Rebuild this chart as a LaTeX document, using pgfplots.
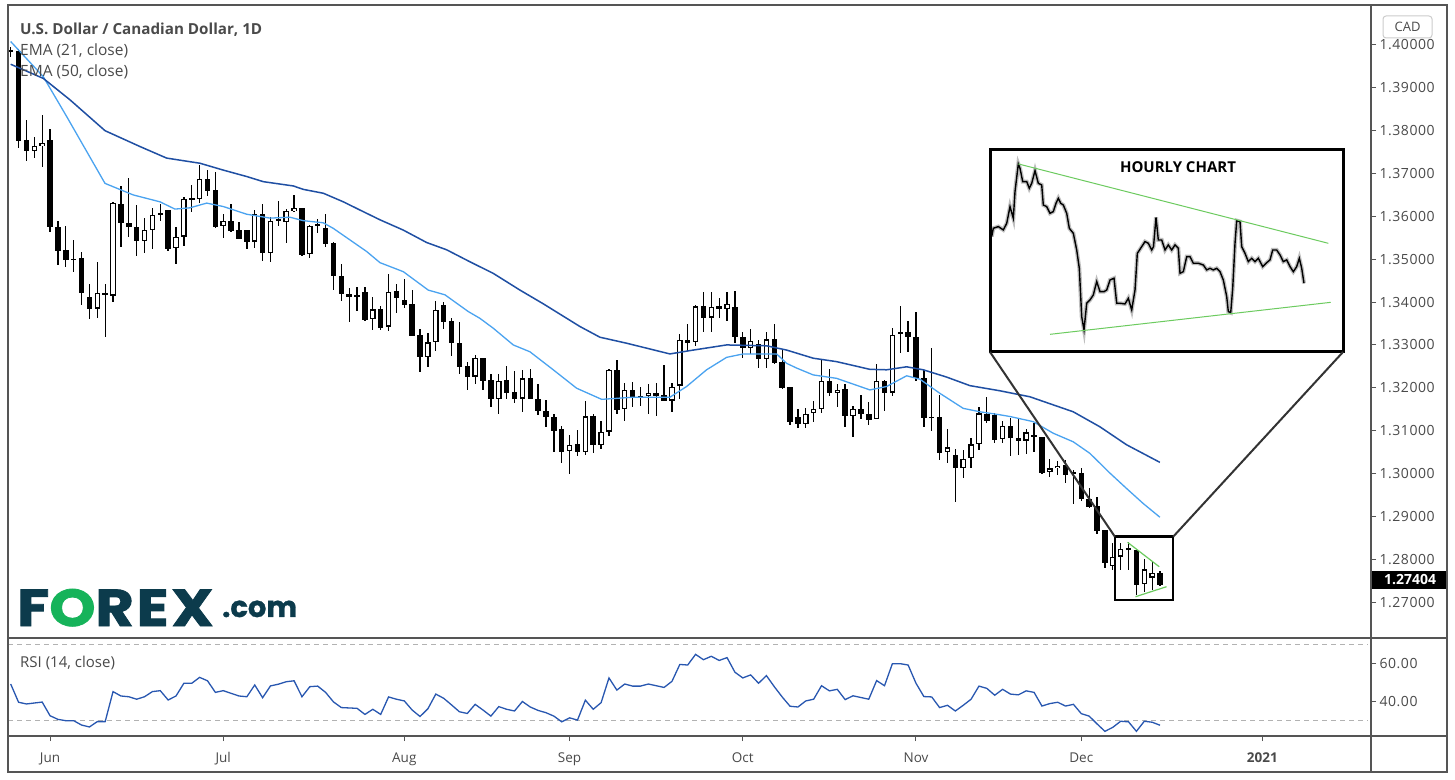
\documentclass[border=0pt]{standalone}
\usepackage{pgfplots}
\pgfplotsset{compat=1.18}
\usepackage{pgfplotstable}
\usepackage{graphicx}
\usepackage{fontspec}
\setmainfont{Open Sans}
\newfontfamily\logofont{Poppins}
\definecolor{framec}{HTML}{555555}
\definecolor{txt}{HTML}{4A4A4A}
\definecolor{emafast}{HTML}{4AA3F0}
\definecolor{emaslow}{HTML}{1F4FA3}
\definecolor{rsic}{HTML}{2857B0}
\definecolor{trend}{HTML}{6CCB5F}
\definecolor{logonavy}{HTML}{0C3B4C}
\definecolor{logogreen}{HTML}{16B35A}

% daily USD/CAD candles, i = trading day (1 = 25 May 2020)
\pgfplotstableread{
i o h l c
1 1.3986 1.3996 1.3973 1.3986
2 1.3987 1.3990 1.3759 1.3777
3 1.3778 1.3825 1.3730 1.3753
4 1.3752 1.3785 1.3737 1.3764
5 1.3764 1.3837 1.3716 1.3771
6 1.3778 1.3804 1.3563 1.3575
7 1.3575 1.3589 1.3487 1.3520
8 1.3521 1.3578 1.3482 1.3498
9 1.3500 1.3545 1.3471 1.3500
10 1.3502 1.3518 1.3393 1.3422
11 1.3413 1.3442 1.3361 1.3385
12 1.3385 1.3494 1.3364 1.3421
13 1.3421 1.3442 1.3319 1.3417
14 1.3415 1.3634 1.3401 1.3632
15 1.3630 1.3672 1.3529 1.3584
16 1.3584 1.3690 1.3552 1.3575
17 1.3575 1.3627 1.3508 1.3543
18 1.3543 1.3597 1.3515 1.3568
19 1.3568 1.3619 1.3524 1.3603
20 1.3603 1.3630 1.3590 1.3608
21 1.3614 1.3614 1.3519 1.3524
22 1.3526 1.3576 1.3489 1.3553
23 1.3553 1.3646 1.3532 1.3640
24 1.3640 1.3673 1.3611 1.3640
25 1.3640 1.3721 1.3631 1.3687
26 1.3687 1.3708 1.3647 1.3660
27 1.3662 1.3703 1.3574 1.3576
28 1.3577 1.3606 1.3549 1.3589
29 1.3589 1.3629 1.3564 1.3566
30 1.3568 1.3587 1.3547 1.3548
31 1.3568 1.3568 1.3523 1.3541
32 1.3541 1.3614 1.3527 1.3605
33 1.3605 1.3629 1.3497 1.3514
34 1.3514 1.3598 1.3494 1.3589
35 1.3589 1.3636 1.3578 1.3593
36 1.3586 1.3617 1.3539 1.3612
37 1.3612 1.3650 1.3611 1.3619
38 1.3619 1.3620 1.3507 1.3510
39 1.3512 1.3580 1.3504 1.3577
40 1.3577 1.3594 1.3561 1.3582
41 1.3572 1.3606 1.3529 1.3535
42 1.3537 1.3540 1.3428 1.3462
43 1.3462 1.3489 1.3403 1.3420
44 1.3420 1.3432 1.3354 1.3413
45 1.3417 1.3436 1.3380 1.3413
46 1.3424 1.3436 1.3356 1.3358
47 1.3360 1.3413 1.3335 1.3383
48 1.3383 1.3390 1.3335 1.3340
49 1.3343 1.3466 1.3333 1.3424
50 1.3426 1.3442 1.3375 1.3410
51 1.3405 1.3455 1.3386 1.3393
52 1.3396 1.3428 1.3322 1.3322
53 1.3323 1.3337 1.3238 1.3271
54 1.3271 1.3327 1.3248 1.3306
55 1.3306 1.3403 1.3287 1.3381
56 1.3393 1.3400 1.3337 1.3354
57 1.3356 1.3362 1.3275 1.3304
58 1.3304 1.3354 1.3232 1.3249
59 1.3251 1.3261 1.3196 1.3226
60 1.3226 1.3277 1.3209 1.3269
61 1.3269 1.3270 1.3196 1.3217
62 1.3218 1.3232 1.3156 1.3173
63 1.3173 1.3232 1.3138 1.3217
64 1.3218 1.3251 1.3173 1.3189
65 1.3190 1.3239 1.3164 1.3175
66 1.3175 1.3242 1.3144 1.3222
67 1.3222 1.3245 1.3174 1.3175
68 1.3175 1.3210 1.3136 1.3147
69 1.3147 1.3172 1.3108 1.3131
70 1.3131 1.3139 1.3051 1.3100
71 1.3103 1.3111 1.3025 1.3051
72 1.3052 1.3091 1.2999 1.3067
73 1.3068 1.3101 1.3041 1.3049
74 1.3049 1.3169 1.3042 1.3133
75 1.3133 1.3138 1.3049 1.3067
76 1.3067 1.3122 1.3056 1.3098
77 1.3098 1.3244 1.3088 1.3242
78 1.3242 1.3265 1.3140 1.3148
79 1.3150 1.3212 1.3123 1.3195
80 1.3195 1.3214 1.3156 1.3178
81 1.3181 1.3201 1.3158 1.3177
82 1.3180 1.3209 1.3140 1.3189
83 1.3189 1.3212 1.3133 1.3181
84 1.3183 1.3253 1.3170 1.3170
85 1.3170 1.3212 1.3143 1.3203
86 1.3205 1.3326 1.3175 1.3311
87 1.3311 1.3350 1.3287 1.3305
88 1.3306 1.3393 1.3298 1.3390
89 1.3391 1.3423 1.3330 1.3364
90 1.3364 1.3423 1.3331 1.3388
91 1.3390 1.3409 1.3364 1.3383
92 1.3383 1.3423 1.3357 1.3396
93 1.3388 1.3426 1.3305 1.3319
94 1.3319 1.3330 1.3270 1.3292
95 1.3292 1.3337 1.3279 1.3310
96 1.3302 1.3312 1.3246 1.3267
97 1.3267 1.3331 1.3247 1.3313
98 1.3313 1.3348 1.3255 1.3259
99 1.3261 1.3289 1.3198 1.3200
100 1.3202 1.3203 1.3113 1.3121
101 1.3131 1.3150 1.3107 1.3115
102 1.3115 1.3152 1.3106 1.3140
103 1.3141 1.3169 1.3121 1.3150
104 1.3150 1.3264 1.3142 1.3217
105 1.3217 1.3244 1.3181 1.3189
106 1.3189 1.3208 1.3156 1.3196
107 1.3197 1.3208 1.3109 1.3133
108 1.3133 1.3158 1.3086 1.3151
109 1.3151 1.3183 1.3127 1.3138
110 1.3138 1.3166 1.3113 1.3125
111 1.3127 1.3255 1.3126 1.3217
112 1.3217 1.3218 1.3147 1.3189
113 1.3189 1.3339 1.3182 1.3324
114 1.3325 1.3392 1.3282 1.3330
115 1.3330 1.3356 1.3284 1.3319
116 1.3318 1.3376 1.3217 1.3222
117 1.3222 1.3241 1.3109 1.3130
118 1.3131 1.3294 1.3099 1.3131
119 1.3131 1.3183 1.3031 1.3049
120 1.3049 1.3103 1.3025 1.3061
121 1.3043 1.3056 1.2934 1.3012
122 1.3012 1.3056 1.2990 1.3035
123 1.3035 1.3084 1.3014 1.3068
124 1.3068 1.3156 1.3055 1.3140
125 1.3140 1.3179 1.3117 1.3123
126 1.3136 1.3140 1.3071 1.3078
127 1.3080 1.3123 1.3071 1.3111
128 1.3111 1.3129 1.3041 1.3082
129 1.3082 1.3129 1.3043 1.3077
130 1.3077 1.3103 1.3045 1.3096
131 1.3090 1.3117 1.3051 1.3085
132 1.3085 1.3085 1.3000 1.3002
133 1.3003 1.3035 1.2993 1.3012
134 1.3012 1.3030 1.2996 1.3018
135 1.3020 1.3031 1.2977 1.2997
136 1.3002 1.3008 1.2930 1.3000
137 1.3000 1.3014 1.2936 1.2940
138 1.2940 1.2966 1.2919 1.2923
139 1.2924 1.2946 1.2859 1.2867
140 1.2868 1.2868 1.2780 1.2790
141 1.2784 1.2838 1.2775 1.2806
142 1.2806 1.2838 1.2775 1.2825
143 1.2825 1.2841 1.2775 1.2822
144 1.2822 1.2822 1.2716 1.2741
145 1.2741 1.2800 1.2724 1.2776
146 1.2757 1.2794 1.2728 1.2769
147 1.2769 1.2773 1.2738 1.2740
}\candles

\pgfplotstableread{
i v
1.0 1.4008
5.14 1.3926
8.11 1.3833
12.98 1.3677
16.57 1.3650
19.96 1.3634
21.87 1.3617
23.77 1.3620
25.9 1.3631
28.0 1.3623
30.98 1.3605
33.94 1.3596
36.48 1.3598
38.17 1.3590
40.71 1.3585
41.98 1.3572
44.1 1.3545
46.22 1.3518
47.91 1.3492
50.87 1.3471
54.04 1.3428
56.16 1.3417
59.12 1.3378
60.61 1.3362
62.3 1.3339
64.84 1.3300
66.96 1.3284
69.92 1.3242
72.89 1.3199
76.07 1.3173
80.08 1.3178
84.74 1.3178
86.86 1.3203
89.4 1.3242
91.94 1.3271
94.05 1.3279
98.3 1.3279
99.57 1.3257
100.84 1.3246
102.95 1.3230
105.92 1.3222
110.15 1.3195
112.27 1.3203
114.81 1.3228
116.5 1.3220
119.04 1.3187
122.0 1.3152
124.12 1.3144
126.66 1.3137
127.93 1.3133
130.89 1.3121
133.43 1.3094
135.97 1.3074
138.09 1.3047
140.63 1.3001
142.75 1.2965
144.86 1.2930
146.98 1.2898
}\emaf

\pgfplotstableread{
i v
1.0 1.3955
5.14 1.3922
8.53 1.3872
12.98 1.3800
17.42 1.3763
20.81 1.3736
25.04 1.3724
28.0 1.3708
30.98 1.3693
33.09 1.3681
36.9 1.3671
38.17 1.3663
40.71 1.3654
43.25 1.3634
45.79 1.3611
47.91 1.3592
50.87 1.3568
53.84 1.3539
56.38 1.3522
59.34 1.3494
62.3 1.3467
65.69 1.3428
68.65 1.3396
73.31 1.3343
75.85 1.3318
79.24 1.3304
84.74 1.3279
87.7 1.3288
91.94 1.3300
97.02 1.3298
99.57 1.3288
102.95 1.3269
105.92 1.3261
110.15 1.3243
112.27 1.3242
114.81 1.3249
116.92 1.3242
119.89 1.3225
122.85 1.3205
126.66 1.3193
130.47 1.3179
135.97 1.3144
139.36 1.3109
142.75 1.3067
146.98 1.3026
}\emas

\pgfplotstableread{
i v
1 49.2
2 39.6
3 38.7
4 39.2
5 39.7
6 32.5
7 30.6
8 29.9
9 29.9
10 27.6
11 26.6
12 29.4
13 29.4
14 45.2
15 42.9
16 42.5
17 41.2
18 42.5
19 45.2
20 45.7
21 40.8
22 42.9
23 49.6
24 49.6
25 52.7
26 50.9
27 44.8
28 45.7
29 44.3
30 42.9
31 42.5
32 48.7
33 42.0
34 48.2
35 49.1
36 50.4
37 50.9
38 42.5
39 47.8
40 48.1
41 44.8
42 39.8
43 36.8
44 36.6
45 36.4
46 33.2
47 35.9
48 33.2
49 42.4
50 41.2
51 40.3
52 35.5
53 32.1
54 36.2
55 43.9
56 41.7
57 38.2
58 34.6
59 33.7
60 38.5
61 35.5
62 32.3
63 37.3
64 35.9
65 35.0
66 40.0
67 37.1
68 35.3
69 34.1
70 32.3
71 29.3
72 31.4
73 30.2
74 40.7
75 35.9
76 39.4
77 52.4
78 46.0
79 49.2
80 48.1
81 48.1
82 49.2
83 48.3
84 47.4
85 50.6
86 59.5
87 59.2
88 64.8
89 62.0
90 63.8
91 61.6
92 63.1
93 55.4
94 52.4
95 54.0
96 49.6
97 53.6
98 47.8
99 42.4
100 37.5
101 37.1
102 40.3
103 41.2
104 48.3
105 45.6
106 46.4
107 41.0
108 43.0
109 42.1
110 41.2
111 51.0
112 48.3
113 59.9
114 59.9
115 59.2
116 49.6
117 42.6
118 42.4
119 36.8
120 38.0
121 35.0
122 38.0
123 41.2
124 48.1
125 46.9
126 43.3
127 46.4
128 43.9
129 43.5
130 45.6
131 44.8
132 37.6
133 38.9
134 39.6
135 37.6
136 38.5
137 33.6
138 32.3
139 28.2
140 24.3
141 26.4
142 29.6
143 29.3
144 24.3
145 29.6
146 29.1
147 27.5
}\rsi

% hourly inset trace (x in inset units)
\pgfplotstableread{
x p
991.7 1.27857
993.3 1.27919
998.3 1.27932
1003.3 1.27907
1006.7 1.27956
1010 1.28081
1013.3 1.27994
1015 1.28193
1018.3 1.28400
1020 1.28367
1022.7 1.28268
1026.7 1.28268
1029.3 1.28218
1031.7 1.28255
1035 1.28350
1038.3 1.28255
1041.7 1.28243
1043.3 1.28093
1046.7 1.28081
1050 1.28031
1053.3 1.28044
1056 1.28106
1058.3 1.28143
1060.7 1.28106
1063.3 1.28093
1066.7 1.28031
1069.3 1.27919
1073.3 1.27882
1076.7 1.27757
1079.3 1.27620
1081.7 1.27259
1084 1.27160
1086.7 1.27359
1090 1.27384
1093.3 1.27421
1096.7 1.27521
1100 1.27446
1104 1.27446
1106.7 1.27458
1110 1.27533
1114 1.27546
1116.7 1.27359
1120 1.27359
1125 1.27354
1128.3 1.27396
1131.7 1.27309
1135 1.27458
1137.3 1.27732
1141.7 1.27782
1145 1.27820
1148.3 1.27807
1151.7 1.27757
1153.5 1.27782
1156 1.28001
1158.3 1.27832
1161.7 1.27832
1165 1.27757
1168.3 1.27795
1171.7 1.27757
1175 1.27795
1178.3 1.27770
1180 1.27583
1183.3 1.27595
1186.7 1.27707
1190 1.27707
1193.3 1.27658
1198.3 1.27658
1203.3 1.27645
1206.7 1.27608
1210 1.27620
1213.3 1.27608
1216.7 1.27620
1220 1.27595
1223.3 1.27533
1226.7 1.27409
1228.3 1.27297
1230.7 1.27289
1232.7 1.27471
1235 1.27807
1236.7 1.27976
1240 1.27969
1241.7 1.27782
1245 1.27732
1248.3 1.27670
1251.7 1.27695
1255 1.27670
1258.3 1.27695
1262.7 1.27633
1266 1.27658
1270 1.27683
1272.7 1.27757
1276.7 1.27757
1280 1.27720
1283.3 1.27670
1286.7 1.27683
1290 1.27633
1293.3 1.27595
1296.7 1.27633
1299.3 1.27695
1301.7 1.27620
1304 1.27508
}\hourly

\begin{document}
\begin{tikzpicture}[x=1pt,y=1pt]
\path[use as bounding box] (0,0) rectangle (1455,779);
\fill[white] (0,0) rectangle (1455,779);

% ---- price panel ----
\begin{axis}[
  at={(8pt,141pt)}, anchor=south west,
  scale only axis, width=1363pt, height=633pt,
  xmin=0.657, xmax=173.8, ymin=1.26161, ymax=1.40933,
  axis line style={draw=none},
  xtick=\empty,
  ytick={1.27,1.28,1.29,1.30,1.31,1.32,1.33,1.34,1.35,1.36,1.37,1.38,1.39,1.40},
  ytick pos=right, yticklabel pos=right,
  tick align=outside, major tick length=5pt,
  tick style={draw=framec, line width=1pt},
  yticklabel={\pgfmathprintnumber[fixed,fixed zerofill,precision=5,assume math mode=true]{\tick}},
  yticklabel style={font=\fontsize{14}{16}\selectfont\addfontfeature{LetterSpace=4}, text=txt},
]
  % wicks
  \addplot[draw=none, forget plot, error bars/.cd, y dir=both, y explicit, error mark=none,
    error bar style={draw=black, line width=1.3pt}]
    table[x=i, y expr={(\thisrow{h}+\thisrow{l})/2}, y error expr={(\thisrow{h}-\thisrow{l})/2}] {\candles};
  % bodies
  \addplot[draw=none, forget plot, error bars/.cd, y dir=both, y explicit, error mark=none,
    error bar style={draw=black, line width=5.5pt}]
    table[x=i, y expr={(\thisrow{o}+\thisrow{c})/2}, y error expr={max(abs(\thisrow{c}-\thisrow{o})/2,0.000175)}] {\candles};
  % hollow up candles
  \addplot[draw=none, forget plot, error bars/.cd, y dir=both, y explicit, error mark=none,
    error bar style={draw=white, line width=3.1pt}]
    table[x=i, y expr={(\thisrow{o}+\thisrow{c})/2}, y error expr={max((\thisrow{c}-\thisrow{o})/2-0.00028,0)}] {\candles};
  % EMAs
  \addplot[emafast, line width=1.3pt] table[x=i, y=v] {\emaf};
  \addplot[emaslow, line width=1.5pt] table[x=i, y=v] {\emas};
  % triangle on the last candles
  \addplot[trend, line width=1.2pt] coordinates {(142.88,1.28394) (146.89,1.27825)};
  \addplot[trend, line width=1.2pt] coordinates {(143.89,1.27125) (147.83,1.27358)};
  \draw[black, line width=2.5pt] (axis cs:141.27,1.27048) rectangle (axis cs:148.67,1.28525);
  \coordinate (bxl) at (axis cs:141.27,1.28525);
  \coordinate (bxr) at (axis cs:148.67,1.28525);
\end{axis}

% ---- RSI panel ----
\begin{axis}[
  at={(8pt,43pt)}, anchor=south west,
  scale only axis, width=1363pt, height=98pt,
  xmin=0.657, xmax=173.8, ymin=21.84, ymax=73.42,
  axis line style={draw=none},
  xtick={6,28,51,72,94,116,137,160},
  xticklabels={Jun,Jul,Aug,Sep,Oct,Nov,Dec,\textbf{2021}},
  xtick pos=left, xticklabel pos=left,
  ytick={40,60}, ytick pos=right, yticklabel pos=right,
  tick align=outside, major tick length=5pt,
  tick style={draw=framec, line width=1pt},
  yticklabel={\pgfmathprintnumber[fixed,fixed zerofill,precision=2,assume math mode=true]{\tick}},
  yticklabel style={font=\fontsize{14}{16}\selectfont\addfontfeature{LetterSpace=4}, text=txt},
  xticklabel style={font=\fontsize{13.5}{15}\selectfont, text=txt, anchor=base, yshift=-21pt},
]
  \draw[gray!60, line width=1pt, dash pattern=on 5pt off 4pt] (axis cs:0.657,70) -- (axis cs:173.3,70);
  \draw[gray!60, line width=1pt, dash pattern=on 5pt off 4pt] (axis cs:0.657,30) -- (axis cs:173.3,30);
  \addplot[rsic, line width=1.3pt] table[x=i, y=v] {\rsi};
\end{axis}

% ---- hourly inset ----
\fill[white] (990,427) rectangle (1343,629);
\begin{axis}[
  at={(990pt,427pt)}, anchor=south west,
  scale only axis, width=353pt, height=202pt,
  xmin=990, xmax=1343, ymin=1.26995, ymax=1.28504,
  hide axis,
]
  \addplot[gray!50, line width=4pt] table[x=x, y=p] {\hourly};
  \addplot[black, line width=1.4pt] table[x=x, y=p] {\hourly};
  \addplot[trend, line width=1pt] coordinates {(1018.3,1.28400) (1328.3,1.27807)};
  \addplot[trend, line width=1pt] coordinates {(1050,1.27127) (1330.7,1.27366)};
\end{axis}
\draw[black, line width=3pt] (990,427) rectangle (1343,629);
\node[font=\fontsize{15}{17}\selectfont\bfseries, anchor=base] at (1178,606) {HOURLY CHART};
\draw[black!80, line width=2pt] (990,427) -- (bxl);
\draw[black!80, line width=2pt] (1343,427) -- (bxr);

% ---- legend texts ----
\node[anchor=base west, inner sep=0, text=txt, font=\fontsize{15.2}{18}\selectfont\bfseries] at (20,744) {U.S. Dollar / Canadian Dollar, 1D};
\node[anchor=base west, inner sep=0, text=txt, font=\fontsize{15.5}{18}\selectfont] at (20,723) {EMA (21, close)};
\node[anchor=base west, inner sep=0, text=txt, font=\fontsize{15.5}{18}\selectfont] at (20,702) {EMA (50, close)};
\node[anchor=base west, inner sep=0, text=txt, font=\fontsize{15}{18}\selectfont] at (20,112) {RSI (14, close)};

% ---- logo ----
\node[anchor=base west, inner sep=0, text=logonavy, font=\logofont\bfseries\fontsize{52}{52}\selectfont\addfontfeature{LetterSpace=5,FakeBold=1.5}] at (17,153) {\scalebox{1.13}[1]{F\textcolor{logogreen}{O}REX}};
\node[anchor=base west, inner sep=0, text=logonavy, font=\logofont\bfseries\fontsize{29}{29}\selectfont\addfontfeature{FakeBold=1}] at (222,162) {.com};

% ---- price scale extras ----
\draw[gray!40, line width=1pt, rounded corners=3pt] (1383,741) rectangle (1432,763);
\node[text=txt, font=\fontsize{13}{15}\selectfont] at (1407.5,752) {CAD};
\fill[black] (1371,190) rectangle (1447,208);
\node[text=white, font=\fontsize{14}{16}\selectfont\bfseries] at (1410,199) {1.27404};

% ---- frame ----
\draw[framec, line width=1.3pt] (8,7) rectangle (1447,774);
\draw[framec, line width=1.3pt] (1371,7) -- (1371,774);
\draw[framec, line width=1.3pt] (8,141) -- (1447,141);
\draw[framec, line width=1.3pt] (8,43) -- (1447,43);
\end{tikzpicture}
\end{document}
